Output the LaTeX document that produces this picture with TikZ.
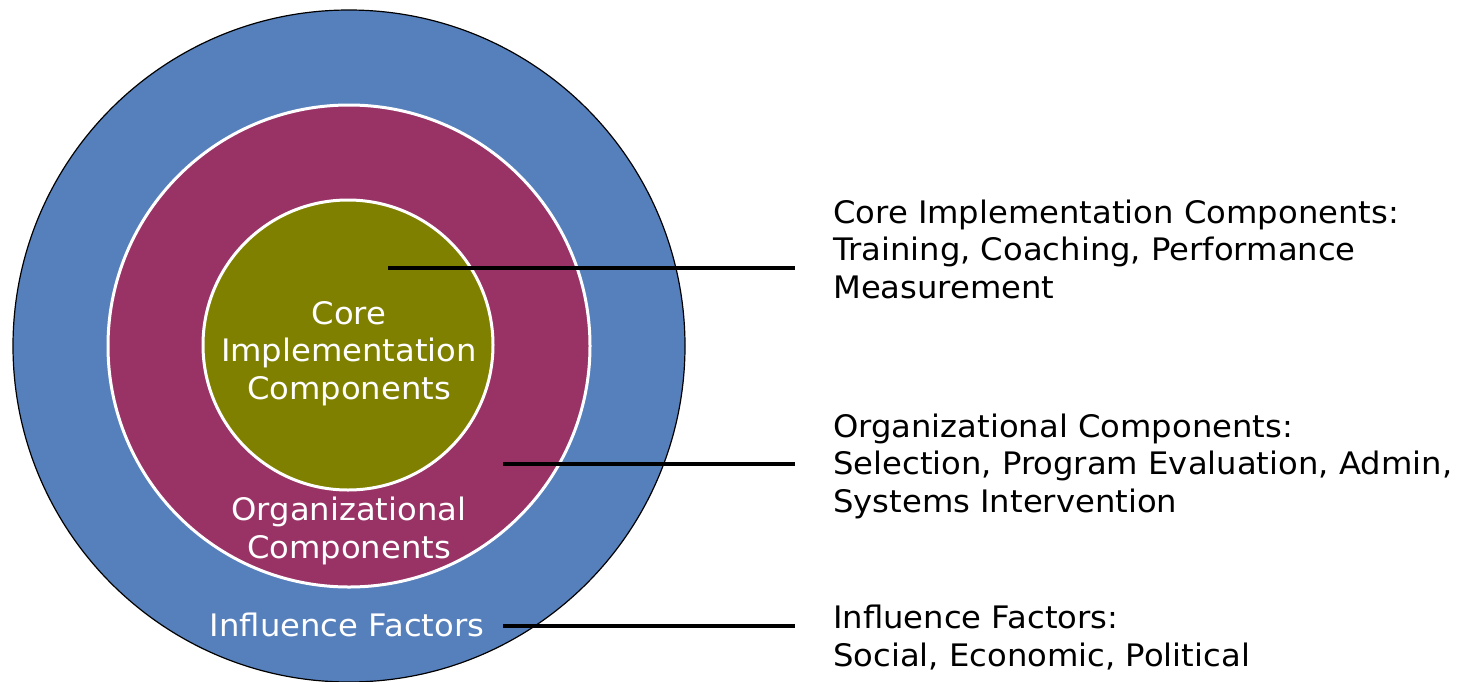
\documentclass[tikz,border=0pt]{standalone}
\usepackage{fontspec}
\setmainfont[FakeStretch=1.04]{DejaVu Sans}
\definecolor{outerblue}{HTML}{5680BC}
\definecolor{midred}{HTML}{993366}
\definecolor{innerolive}{HTML}{808000}
\begin{document}
\begin{tikzpicture}[x=1pt,y=-1pt,
  ring/.style={circle,inner sep=0pt,minimum size=#1},
  intext/.style={text=white,align=center,inner sep=0pt,font=\fontsize{31}{37.5}\selectfont,anchor=base},
  outtext/.style={text=black,align=left,inner sep=0pt,font=\fontsize{31}{37.5}\selectfont,anchor=base west},
  leader/.style={line width=3.2pt,black}]
\useasboundingbox (0,0) rectangle (1460,681);
\node[ring=672pt,fill=outerblue,draw=black,line width=1.2pt] (outer) at (349,346) {};
\node[ring=482pt,fill=midred,draw=white,line width=3pt] (mid) at (349,346) {};
\node[ring=290pt,fill=innerolive,draw=white,line width=3pt] (inner) at (348,345) {};
\node[intext] (coreT) at (349,399) {Core\\Implementation\\Components};
\node[intext] (orgT) at (349,558) {Organizational\\Components};
\node[intext] (infT) at (347,636) {Influence Factors};
\coordinate (c1) at (388,268);
\coordinate (c2) at (503,464);
\coordinate (c3) at (503,626);
\coordinate (e1) at (795,268);
\coordinate (e2) at (795,464);
\coordinate (e3) at (795,626);
\draw[leader] (c1) -- (e1);
\draw[leader] (c2) -- (e2);
\draw[leader] (c3) -- (e3);
\node[outtext] (coreD) at (833,298) {Core Implementation Components:\\Training, Coaching, Performance\\Measurement};
\node[outtext] (orgD) at (833,512) {Organizational Components:\\Selection, Program Evaluation, Admin,\\Systems Intervention};
\node[outtext] (infD) at (833,666) {Influence Factors:\\Social, Economic, Political};
\end{tikzpicture}
\end{document}
